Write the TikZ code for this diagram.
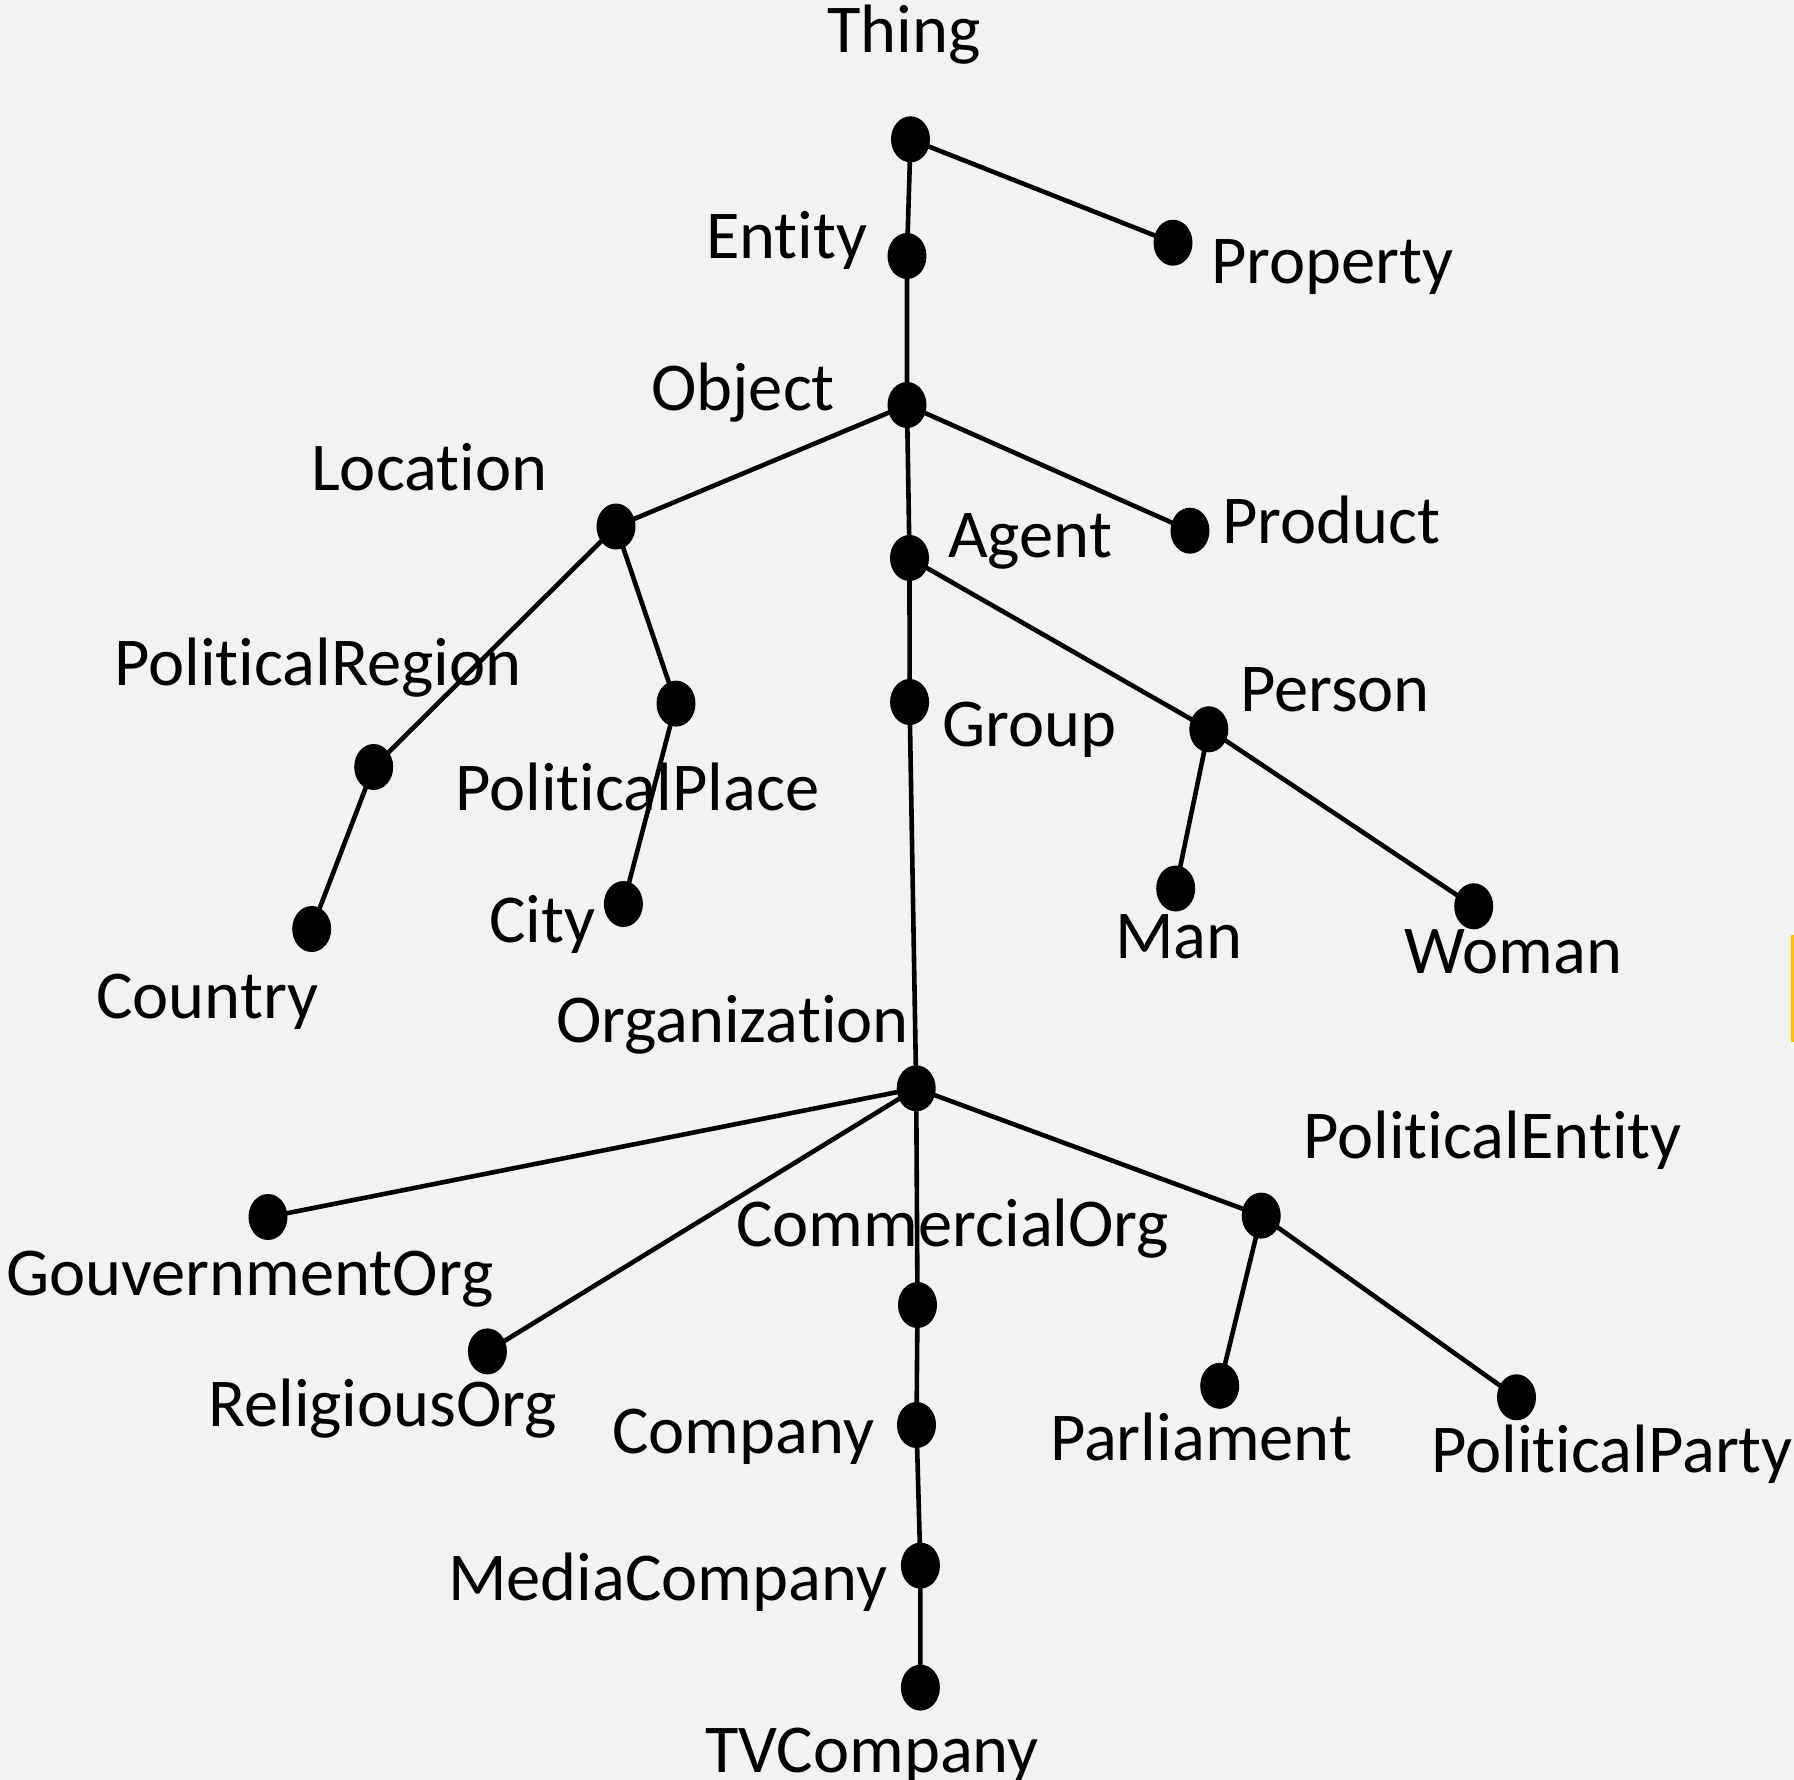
\documentclass[tikz,border=0pt]{standalone}
\usepackage{fontspec}
\setmainfont{Carlito}[Ligatures={NoCommon,NoContextual}]
\usetikzlibrary{shapes.geometric}
\pgfdeclarelayer{bg}
\pgfdeclarelayer{edges}
\pgfsetlayers{bg,edges,main}
\definecolor{paper}{HTML}{F2F2F2}
\definecolor{accent}{HTML}{FFC000}
% keep "t" and "i" as separate glyphs
\newcommand{\tI}{t\kern0pt i}
\begin{document}
\begin{tikzpicture}[x=1pt,y=-1pt,
  dot/.style={shape=ellipse, fill=black, draw=none, inner sep=0pt,
              minimum width=39pt, minimum height=46pt},
  lbl/.style={anchor=base west, inner sep=0pt, text=black,
              font=\fontsize{68.5pt}{80pt}\selectfont},
  link/.style={draw=black, line width=4.6pt}]

\begin{pgfonlayer}{bg}
  \fill[paper] (0,0) rectangle (1794,1780);
  \fill[accent] (1791,935) rectangle (1794,1042);
\end{pgfonlayer}
\useasboundingbox (0,0) rectangle (1794,1780);

% taxonomy nodes
\node[dot] (thing)    at (910.5,139.3) {};
\node[dot] (property) at (1173,242.7) {};
\node[dot] (entity)   at (907,256) {};
\node[dot] (object)   at (907,405) {};
\node[dot] (location) at (616,526.5) {};
\node[dot] (agent)    at (909.5,558) {};
\node[dot] (product)  at (1190,530.7) {};
\node[dot] (polreg)   at (373.7,767) {};
\node[dot] (polplace) at (676,703.6) {};
\node[dot] (country)  at (311.7,929) {};
\node[dot] (city)     at (623.4,904) {};
\node[dot] (group)    at (909.6,702) {};
\node[dot] (person)   at (1208.8,729.3) {};
\node[dot] (man)      at (1175.7,888.5) {};
\node[dot] (woman)    at (1473.7,906.3) {};
\node[dot] (org)      at (916.2,1088.3) {};
\node[dot] (govorg)   at (268,1217) {};
\node[dot] (relorg)   at (487.4,1351.4) {};
\node[dot] (comorg)   at (917.5,1305) {};
\node[dot] (polent)   at (1261.2,1215.6) {};
\node[dot] (company)  at (916.5,1425) {};
\node[dot] (parl)     at (1219.7,1385.8) {};
\node[dot] (party)    at (1516.5,1397.3) {};
\node[dot] (media)    at (920.4,1565.6) {};
\node[dot] (tv)       at (920.4,1687.6) {};

% names
\node[lbl] (thing-l)    at (827,52)    {Thing};
\node[lbl] (entity-l)   at (706,258)   {En\tI ty};
\node[lbl] (property-l) at (1211,283)  {Property};
\node[lbl] (object-l)   at (651,410)   {Object};
\node[lbl] (location-l) at (311,490)   {Loca\tI on};
\node[lbl] (agent-l)    at (948,557)   {Agent};
\node[lbl] (product-l)  at (1222,543)  {Product};
\node[lbl] (polreg-l)   at (114,685)   {Poli\tI calRegion};
\node[lbl] (polplace-l) at (455,810)   {Poli\tI calPlace};
\node[lbl] (country-l)  at (96,1018)   {Country};
\node[lbl] (city-l)     at (489,942)   {City};
\node[lbl] (group-l)    at (942,746)   {Group};
\node[lbl] (person-l)   at (1240,711)  {Person};
\node[lbl] (man-l)      at (1115,958)  {Man};
\node[lbl] (woman-l)    at (1404,973)  {Woman};
\node[lbl] (org-l)      at (556,1042)  {Organiza\tI on};
\node[lbl] (govorg-l)   at (6,1295)    {GouvernmentOrg};
\node[lbl] (relorg-l)   at (208,1426)  {ReligiousOrg};
\node[lbl] (comorg-l)   at (736,1246)  {CommercialOrg};
\node[lbl] (company-l)  at (612,1453)  {Company};
\node[lbl] (media-l)    at (448,1600)  {MediaCompany};
\node[lbl] (tv-l)       at (705,1772)  {TVCompany};
\node[lbl] (polent-l)   at (1303,1158) {Poli\tI calEn\tI ty};
\node[lbl] (parl-l)     at (1050,1460) {Parliament};
\node[lbl] (party-l)    at (1431,1472) {Poli\tI calParty};

% subclass links
\begin{pgfonlayer}{edges}
  \path[link]
    (thing.center) -- (property.center)
    (thing.center) -- (entity.center)
    (entity.center) -- (object.center)
    (object.center) -- (location.center)
    (object.center) -- (agent.center)
    (object.center) -- (product.center)
    (location.center) -- (polreg.center)
    (location.center) -- (polplace.center)
    (polreg.center) -- (country.center)
    (polplace.center) -- (city.center)
    (agent.center) -- (group.center)
    (agent.center) -- (person.center)
    (group.center) -- (org.center)
    (person.center) -- (man.center)
    (person.center) -- (woman.center)
    (org.center) -- (govorg.center)
    (org.center) -- (relorg.center)
    (org.center) -- (comorg.center)
    (org.center) -- (polent.center)
    (comorg.center) -- (company.center)
    (company.center) -- (media.center)
    (media.center) -- (tv.center)
    (polent.center) -- (parl.center)
    (polent.center) -- (party.center);
\end{pgfonlayer}
\end{tikzpicture}
\end{document}
